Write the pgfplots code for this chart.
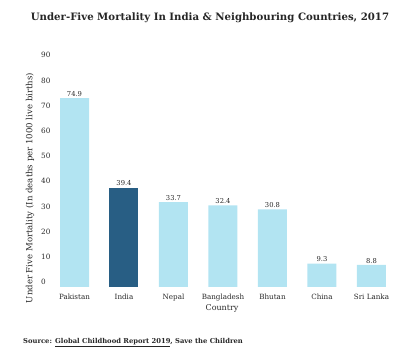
\documentclass[border=0pt]{standalone}
\usepackage{fontspec}
\setmainfont{DejaVu Serif}
\usepackage{pgfplots}
\pgfplotsset{compat=1.18}
\definecolor{lightbar}{RGB}{178,228,242}
\definecolor{darkbar}{RGB}{40,94,132}
\definecolor{txt}{RGB}{40,40,40}
\begin{document}
\begin{tikzpicture}[x=1bp,y=1bp]
\useasboundingbox (0,0) rectangle (400,358);
\begin{axis}[
  at={(49.75bp,71bp)}, anchor=south west,
  scale only axis, width=346.5bp, height=226.8bp,
  xmin=-0.5, xmax=6.5, ymin=0, ymax=90,
  ybar, bar width=29bp, bar shift=0pt,
  xtick={0,1,2,3,4,5,6},
  xticklabels={Pakistan,India,Nepal,Bangladesh,Bhutan,China,Sri Lanka},
  ytick={0,10,...,90},
  axis line style={draw=none}, tick style={draw=none},
  tick label style={text=txt},
  xticklabel style={font=\fontsize{7.2}{8}\selectfont, yshift=1bp},
  yticklabel style={font=\fontsize{7.3}{8}\selectfont, anchor=west, inner sep=0pt, xshift=-8.75bp, yshift=5bp},
  /pgf/number format/assume math mode=true,
  nodes near coords,
  nodes near coords style={font=\fontsize{6.8}{8}\selectfont, text=txt, inner sep=1.5bp,
    /pgf/number format/.cd, fixed, precision=1, fixed zerofill, assume math mode=true},
  clip=false,
]
\addplot[fill=lightbar, draw=none] coordinates {(0,74.9) (2,33.7) (3,32.4) (4,30.8) (5,9.3) (6,8.8)};
\addplot[fill=darkbar, draw=none] coordinates {(1,39.4)};
\end{axis}
\node[font=\bfseries\fontsize{10.2}{12}\selectfont, text=black!85] at (210,340) {Under-Five Mortality In India \& Neighbouring Countries, 2017};
\node[rotate=90, font=\fontsize{8.6}{9}\selectfont, text=txt] at (30,170) {Under Five Mortality (In deaths per 1000 live births)};
\node[font=\fontsize{8}{9}\selectfont, text=txt] at (222,50) {Country};
\node[anchor=west, font=\bfseries\fontsize{6.8}{8}\selectfont, text=black!85, inner sep=0pt] at (23,15) {Source: \underline{Global Childhood Report 2019}, Save the Children};
\end{tikzpicture}
\end{document}
